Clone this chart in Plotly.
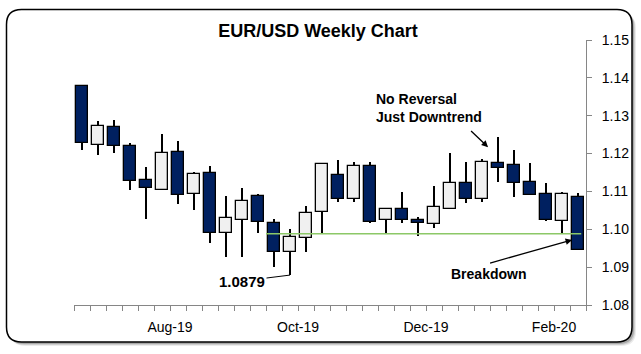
import plotly.graph_objects as go

# ---------------- data ----------------
weeks = ["2019-07-01", "2019-07-08", "2019-07-15", "2019-07-22", "2019-07-29", "2019-08-05",
         "2019-08-12", "2019-08-19", "2019-08-26", "2019-09-02", "2019-09-09", "2019-09-16",
         "2019-09-23", "2019-09-30", "2019-10-07", "2019-10-14", "2019-10-21", "2019-10-28",
         "2019-11-04", "2019-11-11", "2019-11-18", "2019-11-25", "2019-12-02", "2019-12-09",
         "2019-12-16", "2019-12-23", "2019-12-30", "2020-01-06", "2020-01-13", "2020-01-20",
         "2020-01-27", "2020-02-03"]
open_ = [1.1378, 1.1223, 1.1270, 1.1220, 1.1130, 1.1104, 1.1204, 1.1093, 1.1149, 1.0990,
         1.1025, 1.1088, 1.1017, 1.0940, 1.0977, 1.1046, 1.1143, 1.1080, 1.1167, 1.1025,
         1.1054, 1.1025, 1.1014, 1.1054, 1.1122, 1.1080, 1.1175, 1.1170, 1.1125, 1.1093,
         1.1022, 1.1085]
high = [1.1378, 1.1286, 1.1289, 1.1228, 1.1165, 1.1252, 1.1233, 1.1151, 1.1167, 1.1088,
        1.1109, 1.1093, 1.1027, 1.1001, 1.1061, 1.1172, 1.1183, 1.1178, 1.1178, 1.1054,
        1.1098, 1.1032, 1.1114, 1.1201, 1.1178, 1.1186, 1.1244, 1.1209, 1.1175, 1.1122,
        1.1098, 1.1096]
low = [1.1209, 1.1196, 1.1201, 1.1104, 1.1027, 1.1104, 1.1067, 1.1051, 1.0964, 1.0927,
       1.0927, 1.0990, 1.0900, 1.0879, 1.0940, 1.0988, 1.1072, 1.1072, 1.1017, 1.0990,
       1.1017, 1.0982, 1.1003, 1.1054, 1.1069, 1.1072, 1.1125, 1.1085, 1.1091, 1.1022,
       1.0990, 1.0945]
close = [1.1228, 1.1273, 1.1220, 1.1128, 1.1109, 1.1201, 1.1091, 1.1146, 1.0990, 1.1030,
         1.1075, 1.1019, 1.0940, 1.0980, 1.1043, 1.1172, 1.1080, 1.1167, 1.1019, 1.1054,
         1.1025, 1.1017, 1.1059, 1.1122, 1.1080, 1.1178, 1.1162, 1.1122, 1.1091, 1.1025,
         1.1093, 1.0945]

support_level = 1.0988
support_start_week = 12      # line starts at the boundary before this week
tick_labels = ["Aug-19", "Oct-19", "Dec-19", "Feb-20"]
tick_label_weeks = [6, 14, 22, 30]   # label sits at the boundary before this week
y_ticks = [1.08, 1.09, 1.10, 1.11, 1.12, 1.13, 1.14, 1.15]

# ---------------- layout geometry ----------------
W, H = 641, 354
L, R, T, B = 74, 55, 40, 49
PW, PH = W - L - R, H - T - B


def fx(px):
    return (px - L) / PW


def fy(py):
    return (H - B - py) / PH


FONT = "Liberation Sans, Arial, sans-serif"
UP_FILL = "#f0f0f0"
DOWN_FILL = "#002060"

n = len(weeks)
xs = list(range(n))
up_idx = [i for i in xs if close[i] >= open_[i]]
dn_idx = [i for i in xs if close[i] < open_[i]]

fig = go.Figure()

# wicks
fig.add_trace(go.Bar(
    x=xs, base=low, y=[h - l for h, l in zip(high, low)],
    width=0.09, marker=dict(color="black", line=dict(width=0)),
    hoverinfo="skip", showlegend=False))


def body_trace(idx, fill):
    return go.Bar(
        x=idx,
        base=[min(open_[i], close[i]) for i in idx],
        y=[max(abs(close[i] - open_[i]), 0.00015) for i in idx],
        width=0.75,
        marker=dict(color=fill, line=dict(color="black", width=1.3)),
        customdata=[[weeks[i], open_[i], high[i], low[i], close[i]] for i in idx],
        hovertemplate="%{customdata[0]}<br>O %{customdata[1]}<br>H %{customdata[2]}"
                      "<br>L %{customdata[3]}<br>C %{customdata[4]}<extra></extra>",
        showlegend=False)


fig.add_trace(body_trace(up_idx, UP_FILL))
fig.add_trace(body_trace(dn_idx, DOWN_FILL))

# support line
fig.add_trace(go.Scatter(
    x=[support_start_week - 0.5, n - 0.8], y=[support_level, support_level],
    mode="lines", line=dict(color="#8cc867", width=1.5),
    hoverinfo="skip", showlegend=False))

# ---------------- frame (rounded border with shadow) ----------------


def rounded_path(x0, y0, x1, y1, r):
    pts = [
        ("M", [(x0 + r, y0)]),
        ("L", [(x1 - r, y0)]),
        ("Q", [(x1, y0), (x1, y0 + r)]),
        ("L", [(x1, y1 - r)]),
        ("Q", [(x1, y1), (x1 - r, y1)]),
        ("L", [(x0 + r, y1)]),
        ("Q", [(x0, y1), (x0, y1 - r)]),
        ("L", [(x0, y0 + r)]),
        ("Q", [(x0, y0), (x0 + r, y0)]),
    ]
    s = ""
    for cmd, plist in pts:
        s += cmd + " " + " ".join(f"{fx(px):.5f},{fy(py):.5f}" for px, py in plist) + " "
    return s + "Z"


shapes = []
for off, alpha in [(4, 0.08), (3, 0.12), (2, 0.18)]:
    shapes.append(dict(type="path", xref="paper", yref="paper", layer="below",
                       path=rounded_path(6.5 + off, 9.5 + off, 632 + off, 342 + off, 15),
                       fillcolor=f"rgba(0,0,0,{alpha})", line=dict(width=0)))
shapes.append(dict(type="path", xref="paper", yref="paper", layer="below",
                   path=rounded_path(6.5, 9.5, 632, 342, 15),
                   fillcolor="white", line=dict(color="black", width=1.5)))

# ---------------- annotations ----------------
low_idx = low.index(min(low))
annotations = [
    dict(x=low_idx, y=low[low_idx], xref="x", yref="y",
         text=f"<b>{min(low):.4f}</b>", showarrow=True, arrowhead=0,
         arrowwidth=1, arrowcolor="black", ax=-48, ay=6,
         font=dict(family=FONT, size=15, color="black")),
    dict(x=fx(374), y=fy(108), xref="paper", yref="paper", xanchor="left", yanchor="middle",
         align="left", showarrow=False,
         text="<b>No Reversal<br>Just Downtrend</b>",
         font=dict(family=FONT, size=14, color="black")),
    dict(x=26 - 0.62, y=1.1217, xref="x", yref="y", text=" ", showarrow=True,
         arrowhead=2, arrowsize=1, arrowwidth=1.3, arrowcolor="black", ax=-20, ay=-19),
    dict(x=fx(488), y=fy(274), xref="paper", yref="paper", xanchor="center",
         yanchor="middle", showarrow=False,
         text="<b>Breakdown</b>", font=dict(family=FONT, size=14, color="black")),
    dict(x=n - 1.37, y=support_level - 0.0016, xref="x", yref="y", text=" ", showarrow=True,
         arrowhead=2, arrowsize=1, arrowwidth=1.3, arrowcolor="black", ax=-85, ay=24),
]

fig.update_layout(
    width=W, height=H,
    margin=dict(l=L, r=R, t=T, b=B),
    paper_bgcolor="white", plot_bgcolor="rgba(0,0,0,0)",
    barmode="overlay", bargap=0,
    showlegend=False,
    title=dict(text="<b>EUR/USD Weekly Chart</b>", x=318 / W, y=1 - 31 / H,
               xanchor="center", yanchor="middle", xref="container",
               font=dict(family=FONT, size=18, color="black")),
    shapes=shapes,
    annotations=annotations,
    xaxis=dict(
        range=[-0.5, n - 0.5], showgrid=False, zeroline=False,
        showline=True, linecolor="#868686", linewidth=1,
        tickmode="array", tickvals=[w - 0.5 for w in tick_label_weeks], ticktext=tick_labels,
        ticks="outside", ticklen=5, tickcolor="#868686", tickwidth=1,
        tickfont=dict(family=FONT, size=14, color="black"),
        ticklabelstandoff=4,
        minor=dict(tickmode="linear", tick0=-0.5, dtick=1, ticks="outside",
                   ticklen=5, tickcolor="#868686", tickwidth=1, showgrid=False),
        fixedrange=True,
    ),
    yaxis=dict(
        range=[1.08, 1.15], side="right", showgrid=False, zeroline=False,
        showline=True, linecolor="#868686", linewidth=1,
        tickmode="array", tickvals=y_ticks, ticktext=[f"{v:.2f}" for v in y_ticks],
        ticks="outside", ticklen=5, tickcolor="#868686", tickwidth=1,
        tickfont=dict(family=FONT, size=14, color="black"),
        ticklabelstandoff=7,
        fixedrange=True,
    ),
)

fig.write_html("out.html")
